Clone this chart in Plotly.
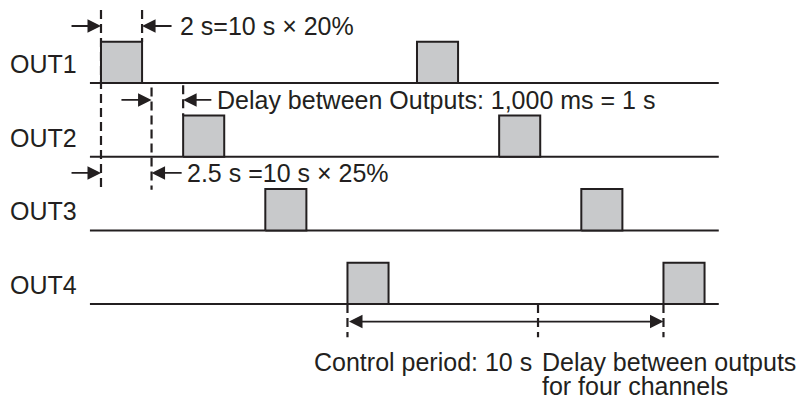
import plotly.graph_objects as go

# diagram time axis (drawn units, 10 = one control period)
channels = ['OUT1', 'OUT2', 'OUT3', 'OUT4']
pulse_starts = [[0.0, 10.0], [2.6, 12.6], [5.2, 15.2], [7.8, 17.8]]
pulse_width = 1.3
pulse_height = 0.56
line_start, line_end = -0.35, 19.55

# dashed guide lines: (t, y_from, y_to)
guides = [
    (0.0, 0.99, -1.45),
    (1.3, 0.99, 0.56),
    (1.6, -0.06, -1.45),
    (2.6, -0.03, -0.44),
    (7.8, -3.0, -3.45),
    (13.83, -3.0, -3.45),
    (17.8, -3.0, -3.45),
]

# dimension arrows: (tail_t, head_t, y)
arrows = [
    (-0.98, 0.0, 0.773),
    (2.28, 1.3, 0.773),
    (0.6, 1.6, -0.23),
    (3.54, 2.6, -0.23),
    (-0.98, 0.0, -1.22),
    (2.6, 1.6, -1.22),
]
period_arrow = (7.8, 17.8, -3.237)

# text notes: (text, t, y, anchor)
notes = [
    ('2 s=10 s \u00d7 20%', 2.47, 0.773, 'left'),
    ('Delay between Outputs: 1,000 ms = 1 s', 3.64, -0.23, 'left'),
    ('2.5 s =10 s \u00d7 25%', 2.68, -1.22, 'left'),
    ('Control period: 10 s', 13.66, -3.787, 'right'),
    ('Delay between outputs', 13.92, -3.787, 'left'),
    ('for four channels', 13.92, -4.11, 'left'),
]

ink = '#231f20'
fill = '#c8c9cb'
font = dict(family='Liberation Sans, Arial, sans-serif', size=25, color=ink)

fig = go.Figure()

for g in guides:
    fig.add_trace(go.Scatter(x=[g[0], g[0]], y=[g[1], g[2]], mode='lines',
                             line=dict(color=ink, width=2.2, dash='9px,5px'),
                             showlegend=False, hoverinfo='skip'))

for i, name in enumerate(channels):
    base = -i
    fig.add_trace(go.Scatter(x=[line_start, line_end], y=[base, base], mode='lines',
                             line=dict(color=ink, width=2), showlegend=False, hoverinfo='skip'))
    for s in pulse_starts[i]:
        fig.add_trace(go.Scatter(
            x=[s, s, s + pulse_width, s + pulse_width, s],
            y=[base, base + pulse_height, base + pulse_height, base, base],
            mode='lines', fill='toself', fillcolor=fill,
            line=dict(color=ink, width=2), showlegend=False, hoverinfo='skip'))
    fig.add_annotation(x=-2.95, y=base + 0.26, text=name, showarrow=False,
                       xanchor='left', yanchor='middle', font=font)

for tail, head, y in arrows:
    fig.add_annotation(x=head, y=y, ax=tail, ay=y, axref='x', ayref='y', text='',
                       showarrow=True, arrowhead=2, arrowsize=1.5, arrowwidth=1.8,
                       arrowcolor=ink)

fig.add_annotation(x=period_arrow[1], y=period_arrow[2], ax=period_arrow[0], ay=period_arrow[2],
                   axref='x', ayref='y', text='', showarrow=True, arrowside='end+start',
                   arrowhead=2, arrowsize=1.5, arrowwidth=1.8, arrowcolor=ink)

for text, t, y, anchor in notes:
    fig.add_annotation(x=t, y=y, text=text, showarrow=False, xanchor=anchor,
                       yanchor='middle', font=font, borderpad=0)

fig.update_xaxes(range=[-3.196, 22.437], visible=False, fixedrange=True)
fig.update_yaxes(range=[-4.288, 1.126], visible=False, fixedrange=True)
fig.update_layout(width=810, height=399, margin=dict(l=0, r=0, t=0, b=0),
                  plot_bgcolor='white', paper_bgcolor='white', showlegend=False)

fig.write_html('out.html', config={'displayModeBar': False},
               post_script="document.body.style.margin='0';document.body.style.overflow='hidden';")
